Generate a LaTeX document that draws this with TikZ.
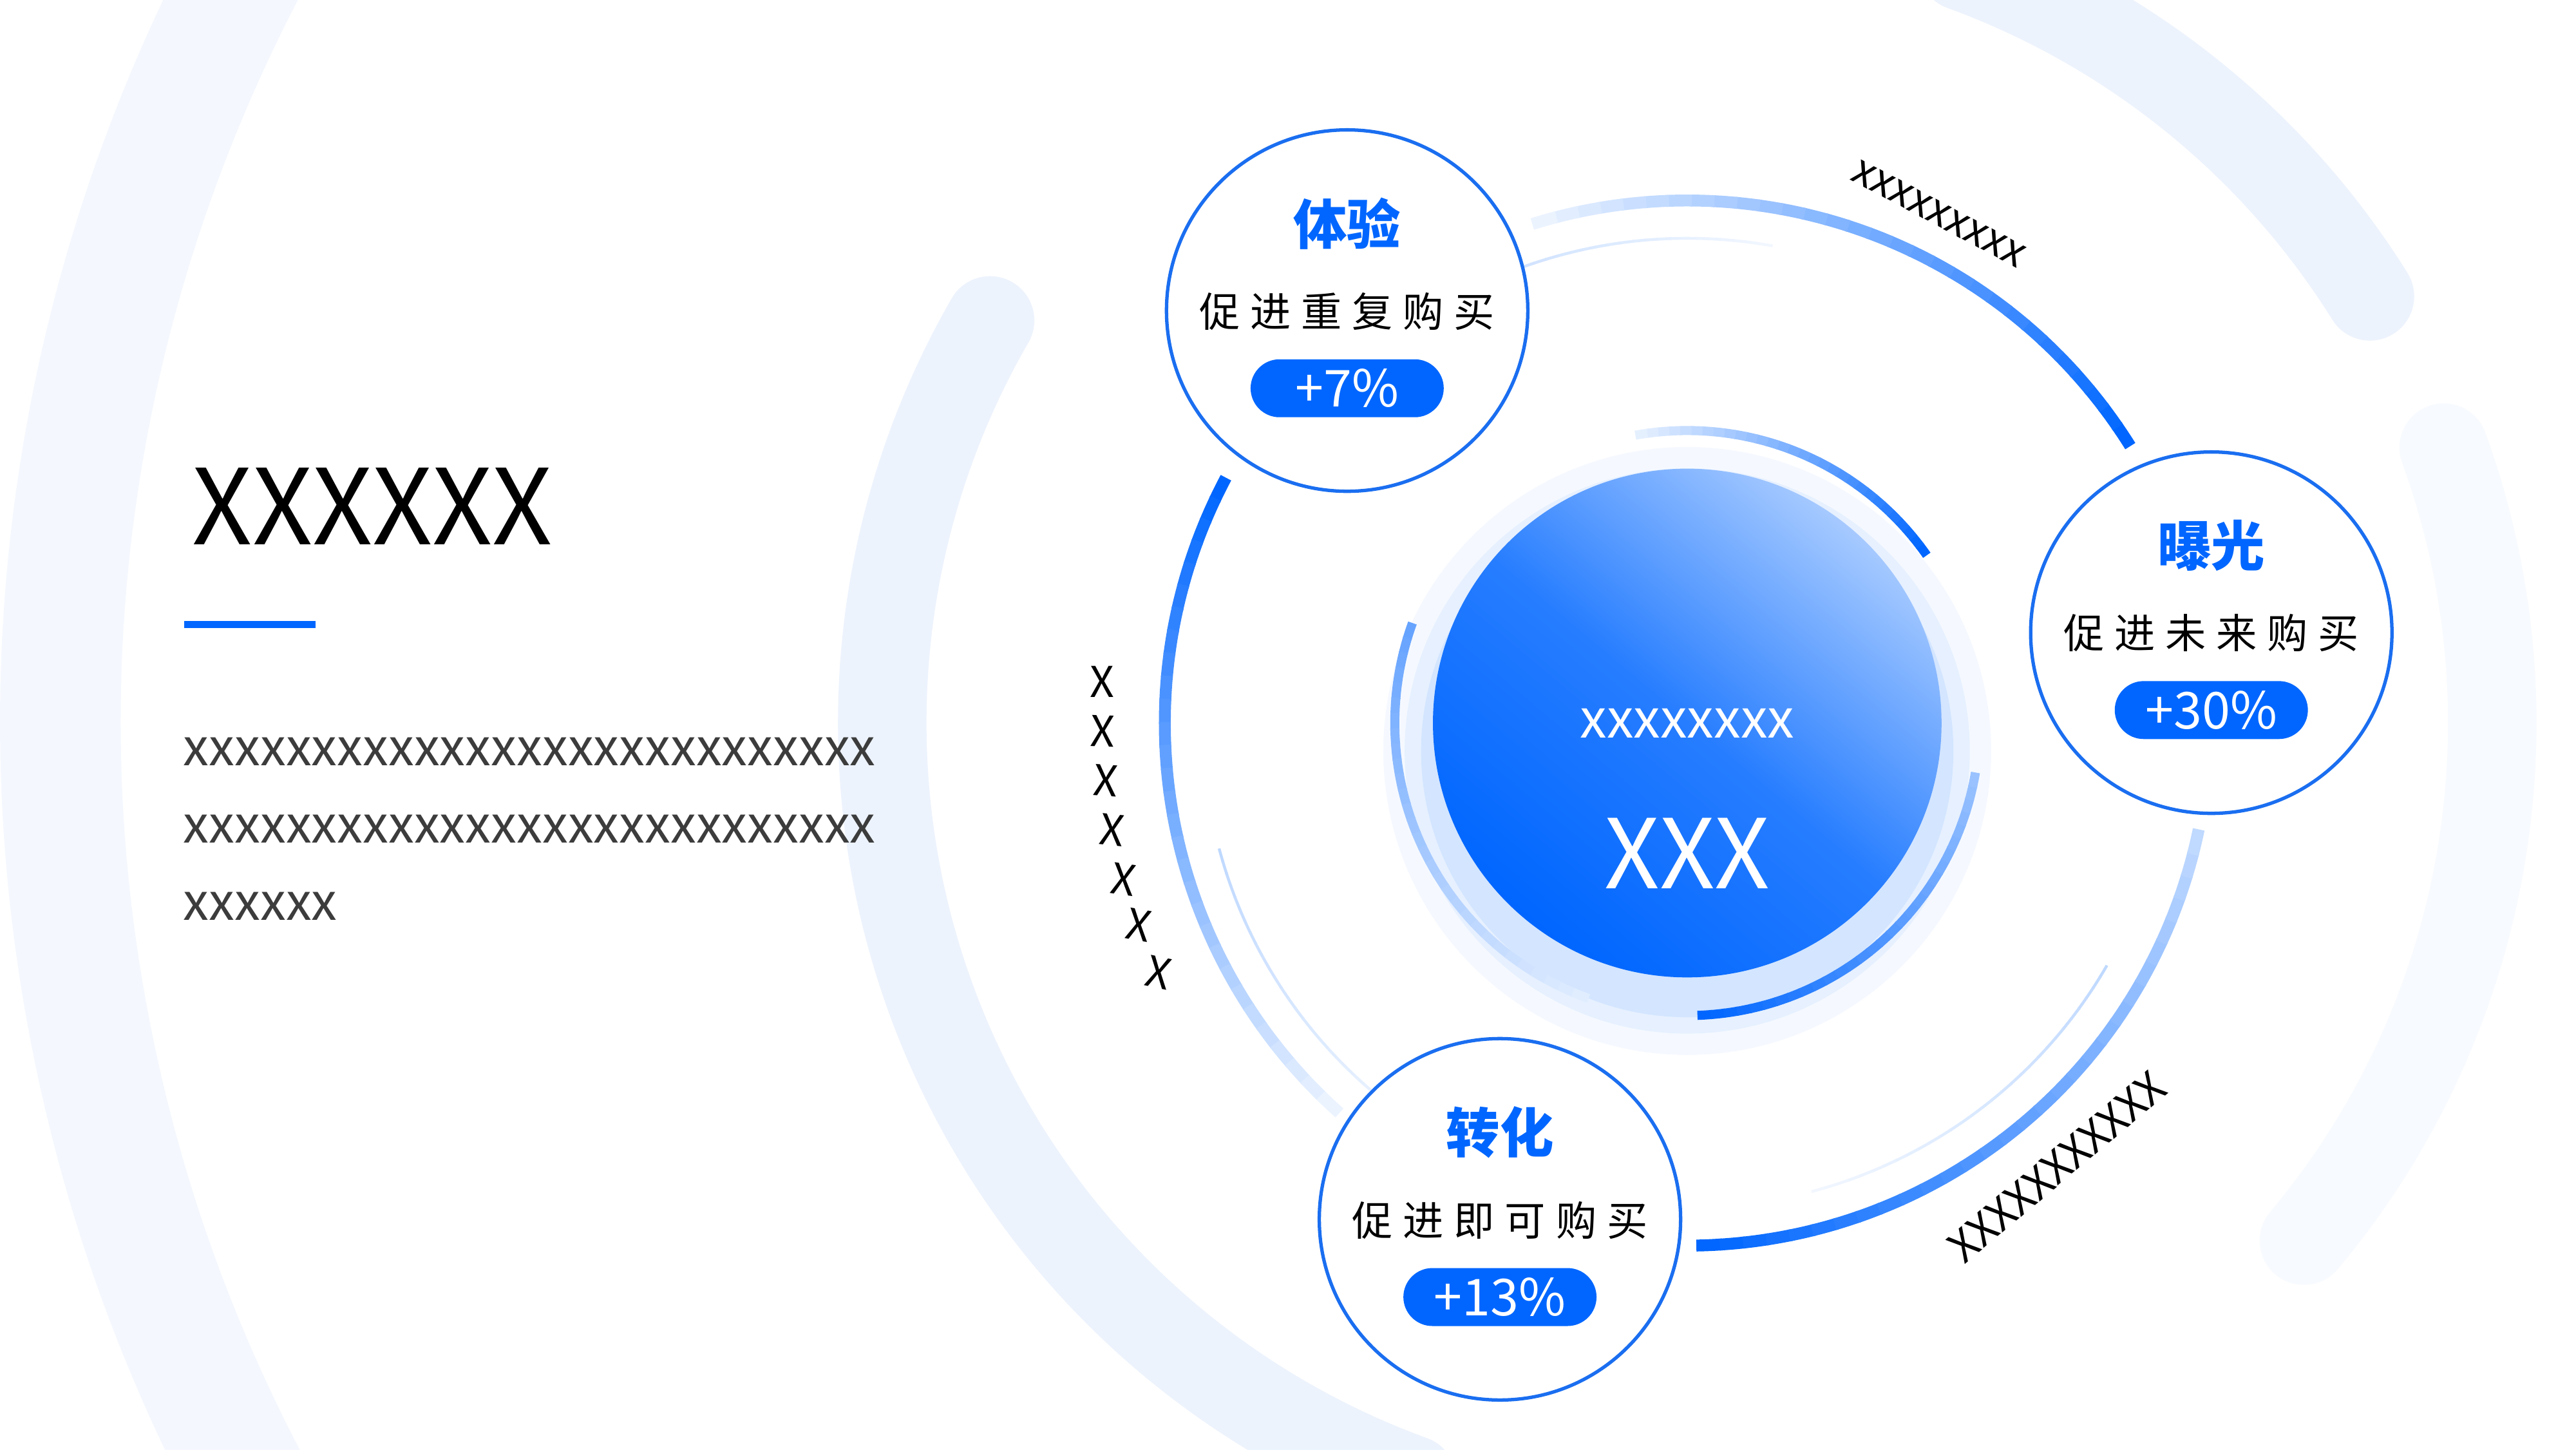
\documentclass[tikz,border=0pt]{standalone}
\usepackage{fontspec}
\setmainfont{Noto Sans CJK SC}
\newfontfamily\cjkspaced{Noto Sans CJK SC}[LetterSpace=25]
\usetikzlibrary{positioning}
\definecolor{mainblue}{RGB}{0,102,255}
\definecolor{lineblue}{RGB}{26,110,240}
\definecolor{paleblue}{RGB}{225,236,253}
\definecolor{textgray}{RGB}{60,60,60}
\tikzset{
  stage/.style={circle, draw=lineblue, line width=0.6pt, fill=white, minimum size=2.245cm},
  pill/.style={fill=mainblue, text=white, rounded corners=0.18cm, minimum width=1.2cm, minimum height=0.36cm, inner sep=0pt, font=\fontsize{9}{9}\selectfont},
  headline/.style={text=mainblue, font=\fontsize{9.5}{9.5}\selectfont\bfseries},
  subline/.style={font=\fontsize{7.2}{7.2}\cjkspaced},
  tick/.style={font=\fontsize{7.5}{7.5}\selectfont}
}
% arc fading from full blue at start to pale at end
\newcommand{\fadearc}[6]{%
  \foreach \i in {0,...,29} {
    \pgfmathsetmacro\aa{#3+(#4-#3)*\i/30}
    \pgfmathsetmacro\bb{#3+(#4-#3)*(\i+1.1)/30}
    \pgfmathsetmacro\pp{#5-(#5-#6)*\i/29}
    \draw[mainblue!\pp, line cap=butt] (center) ++(\aa:#1) arc[start angle=\aa, end angle=\bb, radius=#1];
  }}
\begin{document}
\begin{tikzpicture}[x=0.010204cm, y=0.010204cm]
	\useasboundingbox[fill=white] (0,0) rectangle (1568,882);
	\coordinate (center) at (1027,442);

	% faint background rings
	\begin{scope}[line cap=round, paleblue]
		\draw[line width=0.75cm, opacity=0.35] (1027,442) ++(105:990) arc[start angle=105, end angle=245, radius=990];
		\draw[line width=0.55cm, opacity=0.6] (1027,442) ++(150:490) arc[start angle=150, end angle=250, radius=490];
		\draw[line width=0.55cm, opacity=0.6] (1027,442) ++(32:490) arc[start angle=32, end angle=70, radius=490];
		\draw[line width=0.55cm, opacity=0.25] (1027,442) ++(-40:490) arc[start angle=-40, end angle=20, radius=490];
	\end{scope}

	% glow under centre
	\foreach \r/\o in {185/0.04, 172/0.06, 162/0.08} {
		\fill[mainblue, opacity=\o] (1027,425) circle (\r);
	}

	% thin rings
	\begin{scope}[line width=0.5pt]
		\fadearc{295}{0}{125}{80}{25}{5}
		\fadearc{295}{0}{195}{240}{25}{5}
		\fadearc{295}{0}{330}{285}{25}{5}
	\end{scope}

	% thick arcs
	\begin{scope}[line width=2.1pt]
		\fadearc{318}{0}{32}{107}{100}{8}
		\fadearc{318}{0}{152}{228}{100}{8}
		\fadearc{318}{0}{271}{348}{100}{25}
	\end{scope}
	\begin{scope}[line width=1.6pt]
		\fadearc{178}{0}{35}{100}{100}{10}
		\fadearc{178}{0}{160}{250}{60}{12}
		\fadearc{178}{0}{272}{350}{100}{40}
	\end{scope}

	% centre
	\node (core) [circle, minimum size=3.16cm, shading=axis, top color=mainblue!35, bottom color=mainblue, middle color=mainblue!85, shading angle=-40] at (center) {};
	\node (core_small) [text=white, font=\fontsize{9.5}{9.5}\selectfont] at (1027,442) {xxxxxxxx};
	\node (core_big) [text=white, font=\fontsize{17}{17}\selectfont, below=0.25cm of core_small] {XXX};

	% stages
	\node (exp) [stage] at (820,693) {};
	\node (exp_head) [headline] at (820,746) {体验};
	\node (exp_sub) [subline, below=0.02cm of exp_head] {促进重复购买};
	\node (exp_pct) [pill, below=0.05cm of exp_sub] {+7\%};

	\node (show) [stage] at (1346,497) {};
	\node (show_head) [headline] at (1346,550) {曝光};
	\node (show_sub) [subline, below=0.02cm of show_head] {促进未来购买};
	\node (show_pct) [pill, below=0.05cm of show_sub] {+30\%};

	\node (conv) [stage] at (913,140) {};
	\node (conv_head) [headline] at (913,193) {转化};
	\node (conv_sub) [subline, below=0.02cm of conv_head] {促进即可购买};
	\node (conv_pct) [pill, below=0.05cm of conv_sub] {+13\%};

	% arc labels
	\node (top_lbl) [tick, rotate=-28, inner sep=0pt] at (1180,752) {xxxxxxxxx};
	\node (low_lbl) [tick, rotate=40, inner sep=0pt] at (1252,172) {XXXXXXXXXXX};
	\foreach \x/\y/\r [count=\k] in {671/467/0, 671/437/-2, 673/407/-4, 677/377/-6, 684/347/-8, 693/319/-10, 705/290/-12} {
		\node (side_\k) [tick, rotate=\r, inner sep=0pt] at (\x,\y) {X};
	}

	% left block
	\node (title) [anchor=west, font=\fontsize{18.5}{18.5}\selectfont] at (105,574) {XXXXXX};
	\coordinate (bar_a) at (112,502);
	\coordinate (bar_b) at (192,502);
	\draw[mainblue, line width=1.3pt] (bar_a) -- (bar_b);
	\node (body) [anchor=north west, align=left, text=textgray, font=\fontsize{9.1}{13.7}\selectfont, inner sep=0pt] at (111,434) {xxxxxxxxxxxxxxxxxxxxxxxxxxx\\xxxxxxxxxxxxxxxxxxxxxxxxxxx\\xxxxxx};
\end{tikzpicture}
\end{document}
